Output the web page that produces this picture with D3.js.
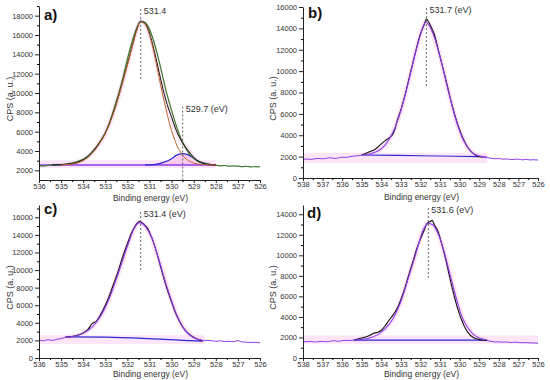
<!DOCTYPE html>
<html>
<head>
<meta charset="utf-8">
<script src="https://cdn.jsdelivr.net/npm/d3@7"></script>
<style>
  body { margin: 0; background: #fff; }
  svg text { font-family: "Liberation Sans", Arial, sans-serif; }
</style>
</head>
<body>
<svg id="svg" width="550" height="380"></svg>
<script>
// ---- data: [binding energy (eV), CPS] ----

// panel a
var aData = [[536.0,2480],[535.8,2440],[535.6,2510],[535.4,2540],[535.2,2560],[535.0,2600],[534.8,2640],[534.6,2720],[534.4,2800],[534.2,2950],[534.0,3150],[533.8,3450],[533.6,3900],[533.4,4450],[533.2,5100],[533.0,5900],[532.8,7000],[532.6,8400],[532.4,9900],[532.2,11600],[532.0,13500],[531.8,15200],[531.6,16600],[531.4,17450],[531.2,17300],[531.0,16600],[530.8,15300],[530.6,13600],[530.4,11700],[530.2,9800],[530.0,8200],[529.8,6700],[529.6,5400],[529.4,4450],[529.2,3700],[529.0,3250],[528.8,2950],[528.6,2800],[528.4,2700],[528.2,2600],[528.0,2520],[527.8,2470],[527.6,2500],[527.4,2430],[527.2,2460],[527.0,2440],[526.8,2380],[526.6,2420],[526.4,2360],[526.2,2380],[526.0,2350]];
var aEnvelope = [[535.4,2560],[535.0,2590],[534.6,2680],[534.2,2880],[533.8,3400],[533.4,4400],[533.0,5850],[532.6,8200],[532.2,11300],[531.8,14700],[531.6,16400],[531.4,17400],[531.2,17200],[531.0,16200],[530.8,14500],[530.6,12500],[530.4,10500],[530.2,8800],[530.0,7500],[529.8,6200],[529.6,5200],[529.4,4500],[529.2,3900],[529.0,3350],[528.8,2950],[528.6,2750],[528.4,2640],[528.2,2580],[528.0,2560]];
var aPeak1 = [[535.0,2560],[534.6,2620],[534.2,2800],[533.8,3300],[533.4,4300],[533.0,5800],[532.6,8100],[532.2,11200],[531.8,14600],[531.6,16300],[531.4,17350],[531.2,17100],[531.0,16000],[530.8,14200],[530.6,12000],[530.4,9800],[530.2,7800],[530.0,6100],[529.8,4800],[529.6,3900],[529.4,3300],[529.2,2950],[529.0,2750],[528.6,2600],[528.2,2560],[528.0,2550]];
var aPeak2 = [[531.2,2560],[530.8,2600],[530.4,2800],[530.0,3200],[529.8,3550],[529.5,3720],[529.2,3550],[529.0,3250],[528.8,2950],[528.6,2750],[528.4,2620],[528.2,2570],[528.0,2550]];
var aBaseline = [[536.0,2550],[528.0,2550]];

// panel b
var bWingLeft = [[538.0,1750],[537.8,1780],[537.6,1740],[537.4,1800],[537.2,1830],[537.0,1790],[536.8,1850],[536.6,1900],[536.4,1820],[536.2,1880],[536.0,1950],[535.8,1920],[535.6,2000],[535.4,2050],[535.2,2080],[535.0,2150]];
var bData = [[535.0,2150],[534.8,2300],[534.6,2450],[534.4,2600],[534.2,2850],[534.0,3200],[533.8,3500],[533.6,3750],[533.4,4150],[533.3,4600],[533.2,5300],[533.0,6400],[532.8,7700],[532.6,9200],[532.4,10700],[532.2,12200],[532.0,13500],[531.8,14400],[531.7,14900],[531.6,14650],[531.4,13900],[531.3,13500],[531.2,12800],[531.0,11350],[530.8,9900],[530.6,8400],[530.4,6900],[530.2,5600],[530.0,4500],[529.8,3600],[529.6,2900],[529.4,2450],[529.2,2150],[529.0,2000],[528.8,1950]];
var bWingRight = [[528.8,1950],[528.6,1900],[528.4,1850],[528.2,1800],[528.0,1820],[527.8,1760],[527.6,1790],[527.4,1720],[527.2,1750],[527.0,1760],[526.8,1700],[526.6,1740],[526.4,1690],[526.2,1710],[526.0,1680]];
var bFit = [[535.0,2150],[534.6,2250],[534.2,2500],[533.8,3100],[533.4,4300],[533.0,6300],[532.6,9100],[532.2,12100],[531.9,14000],[531.75,14600],[531.6,14400],[531.3,13200],[531.0,11300],[530.6,8300],[530.2,5500],[529.8,3500],[529.4,2450],[529.0,2050],[528.6,1960]];
var bBaseline = [[535.0,2150],[532.0,2080],[529.0,2000]];

// panel c
var cWingLeft = [[536.0,2050],[535.8,1950],[535.6,2080],[535.4,2000],[535.2,2120],[535.0,2200],[534.8,2350]];
var cData = [[534.8,2350],[534.6,2420],[534.4,2500],[534.2,2650],[534.0,2850],[533.8,3200],[533.6,3900],[533.4,4200],[533.2,5000],[533.0,6000],[532.8,7200],[532.6,8600],[532.4,10000],[532.2,11600],[532.0,13000],[531.8,14300],[531.6,15200],[531.45,15550],[531.3,15300],[531.1,14800],[531.0,14300],[530.8,13000],[530.6,11300],[530.4,9500],[530.2,7800],[530.0,6350],[529.8,5000],[529.6,3950],[529.4,3200],[529.2,2700],[529.0,2350],[528.8,2100],[528.6,1950]];
var cWingRight = [[528.6,1950],[528.4,2000],[528.2,1980],[528.0,1900],[527.8,1950],[527.6,1880],[527.4,1900],[527.2,1850],[527.0,1980],[526.8,1820],[526.6,1800],[526.4,1760],[526.2,1780],[526.0,1720]];
var cFit = [[534.8,2350],[534.4,2480],[534.0,2800],[533.6,3500],[533.2,4800],[532.8,6900],[532.4,9700],[532.0,12700],[531.7,14700],[531.45,15400],[531.2,15000],[530.9,13700],[530.6,11400],[530.2,8000],[529.8,5100],[529.4,3200],[529.0,2300],[528.6,2000]];
var cBaseline = [[534.8,2400],[533.0,2380],[531.0,2200],[529.5,2000],[528.6,1930]];

// panel d
var dWingLeft = [[538.0,1600],[537.8,1580],[537.6,1620],[537.4,1560],[537.2,1600],[537.0,1620],[536.8,1580],[536.6,1640],[536.4,1680],[536.2,1620],[536.0,1700],[535.8,1720],[535.6,1700],[535.4,1750]];
var dData = [[535.4,1750],[535.2,1850],[535.0,1950],[534.8,2050],[534.6,2200],[534.4,2400],[534.2,2500],[534.0,2700],[533.8,3150],[533.6,3700],[533.4,4200],[533.2,4800],[533.0,5700],[532.8,6800],[532.6,8100],[532.4,9300],[532.2,10600],[532.0,11600],[531.8,12500],[531.7,13000],[531.6,13200],[531.5,13300],[531.4,13400],[531.3,13000],[531.1,12300],[530.9,11000],[530.7,9500],[530.5,7800],[530.3,6200],[530.1,4800],[529.9,3700],[529.7,2850],[529.5,2300],[529.3,2000],[529.1,1850],[528.9,1750],[528.6,1700]];
var dWingRight = [[528.6,1700],[528.4,1620],[528.2,1560],[528.0,1580],[527.8,1540],[527.6,1560],[527.4,1500],[527.2,1540],[527.0,1520],[526.8,1480],[526.6,1500],[526.4,1470],[526.2,1460],[526.0,1440]];
var dFit = [[535.4,1750],[535.0,1800],[534.6,1950],[534.2,2250],[533.8,2850],[533.4,3850],[533.0,5500],[532.6,7900],[532.2,10400],[531.9,12300],[531.6,13100],[531.4,13000],[531.1,12100],[530.8,10400],[530.5,8200],[530.2,6000],[529.9,4100],[529.6,3000],[529.3,2300],[529.0,1950],[528.6,1760]];
var dBaseline = [[535.4,1750],[528.6,1750]];

// peak markers: [position, top value, bottom value], labels
var aMarks = [[531.4,18700,11300],[529.5,8600,700]];
var aMarkLabels = ["531.4","529.7 (eV)"];
var bMarks = [[531.7,15900,8500]];
var bMarkLabels = ["531.7 (eV)"];
var cMarks = [[531.4,16600,10000]];
var cMarkLabels = ["531.4 (eV)"];
var dMarks = [[531.6,14600,7800]];
var dMarkLabels = ["531.6 (eV)"];

// pink shaded bands: [E start, E end, low, high]
var aBand = [536.0,528.0,2250,3050];
var bBand = [538.0,528.6,1400,2350];
var cBand = [536.0,528.5,1600,2600];
var dBand = [538.0,526.0,1400,2200];

var svg = d3.select("#svg");

var panels = [
  { name: "a)", x: [39,260], y: [180,6], xd: [536,526], yd: [1000,19000], yTicks: d3.range(2000,18001,2000),
    lx: 44, ly: 20, titleX: 10, titleDy: 21, band: aBand, marks: aMarks, markLabels: aMarkLabels },
  { name: "b)", x: [303,538], y: [178,7], xd: [538,526], yd: [0,16000], yTicks: d3.range(0,16001,2000),
    lx: 308, ly: 18, titleX: 273, titleDy: 22, band: bBand, marks: bMarks, markLabels: bMarkLabels },
  { name: "c)", x: [39,260], y: [358,205], xd: [536,526], yd: [0,17400], yTicks: d3.range(0,16001,2000),
    lx: 44, ly: 214, titleX: 10, titleDy: 19, band: cBand, marks: cMarks, markLabels: cMarkLabels },
  { name: "d)", x: [303,538], y: [358,205], xd: [538,526], yd: [0,14900], yTicks: d3.range(0,14001,2000),
    lx: 307, ly: 218, titleX: 273, titleDy: 19, band: dBand, marks: dMarks, markLabels: dMarkLabels }
];

var pink = "#fbdcf4", purple = "#8c3ce8", blue = "#2a2ad2", green = "#3f7a2c", orange = "#c0652c";
var tickFont = "'Liberation Sans Narrow', 'Liberation Sans', Arial, sans-serif";

panels.forEach(function (p, i) {
  var x = d3.scaleLinear().domain(p.xd).range(p.x);
  var y = d3.scaleLinear().domain(p.yd).range(p.y);
  var line = d3.line().x(function (d) { return x(d[0]); }).y(function (d) { return y(d[1]); }).curve(d3.curveMonotoneX);
  var plot = svg.append("g");

  function path(data, color, w, op) {
    plot.append("path").datum(data.slice().sort(function (a, b) { return b[0] - a[0]; }))
      .attr("d", line).attr("fill", "none").attr("stroke", color).attr("stroke-width", w)
      .attr("stroke-linejoin", "round").attr("opacity", op || 1);
  }

  // shaded band
  plot.append("rect")
    .attr("x", x(p.band[0])).attr("width", x(p.band[1]) - x(p.band[0]))
    .attr("y", y(p.band[3])).attr("height", y(p.band[2]) - y(p.band[3]))
    .attr("fill", pink).attr("opacity", 0.75);

  if (i === 0) {
    // pink fill under second component
    var area = d3.area().x(function (d) { return x(d[0]); }).y0(y(aBaseline[0][1])).y1(function (d) { return y(d[1]); }).curve(d3.curveMonotoneX);
    plot.append("path").datum(aPeak2.slice().reverse()).attr("d", area).attr("fill", "#f6c2ec").attr("opacity", 0.8);
    path(aEnvelope, pink, 5, 0.7);
    path(aBaseline, purple, 1.6);
    path(aPeak2, blue, 1.2);
    path(aData, green, 1.2);
    path(aEnvelope, "#111", 1.0);
    path(aPeak1, orange, 1.0);
  } else {
    var sets = [[bWingLeft, bData, bWingRight, bFit, bBaseline], [cWingLeft, cData, cWingRight, cFit, cBaseline], [dWingLeft, dData, dWingRight, dFit, dBaseline]][i - 1];
    path(sets[3], pink, 5, 0.7);
    path(sets[0], purple, 1.0);
    path(sets[2], purple, 1.0);
    path(sets[4], blue, 1.2);
    path(sets[1], "#111", 1.1);
    path(sets[3], purple, 1.1);
  }

  // peak markers
  p.marks.forEach(function (m, k) {
    plot.append("line")
      .attr("x1", x(m[0])).attr("x2", x(m[0]))
      .attr("y1", y(m[1])).attr("y2", y(m[2]))
      .attr("stroke", "#555").attr("stroke-width", 0.9).attr("stroke-dasharray", "2,2");
    plot.append("text")
      .attr("x", x(m[0]) + 3).attr("y", y(m[1]) + 5)
      .attr("font-size", 9).attr("fill", "#333")
      .text(p.markLabels[k]);
  });

  // axes
  var gx = svg.append("g").attr("transform", "translate(0," + p.y[0] + ")")
    .call(d3.axisBottom(x).tickValues(d3.range(p.xd[1], p.xd[0] + 0.01, 1)).tickFormat(d3.format("d")).tickSize(3).tickSizeOuter(0).tickPadding(1));
  svg.append("g").attr("transform", "translate(0," + p.y[0] + ")")
    .call(d3.axisBottom(x).tickValues(d3.range(p.xd[1] + 0.5, p.xd[0], 1)).tickFormat("").tickSize(2))
    .select(".domain").remove();

  var gy = svg.append("g").attr("transform", "translate(" + p.x[0] + ",0)")
    .call(d3.axisLeft(y).tickValues(p.yTicks).tickFormat(d3.format("d")).tickSize(4).tickSizeOuter(0).tickPadding(2));
  svg.append("g").attr("transform", "translate(" + p.x[0] + ",0)")
    .call(d3.axisLeft(y).tickValues(p.yTicks.map(function (t) { return t + 1000; }).filter(function (t) { return t <= p.yd[1]; })).tickFormat("").tickSize(2))
    .select(".domain").remove();

  [gx, gy].forEach(function (g) {
    g.select(".domain").attr("stroke", "#222").attr("stroke-width", 1);
    g.selectAll(".tick line").attr("stroke", "#222");
    g.selectAll(".tick text").attr("font-size", 7.5).attr("fill", "#333").attr("font-family", tickFont);
  });

  // titles
  svg.append("text")
    .attr("x", (p.x[0] + p.x[1]) / 2 + 1).attr("y", p.y[0] + p.titleDy)
    .attr("text-anchor", "middle").attr("font-size", 8.5).attr("fill", "#333")
    .text("Binding energy (eV)");
  svg.append("text")
    .attr("transform", "translate(" + p.titleX + "," + ((p.y[0] + p.y[1]) / 2 + 6) + ") rotate(-90)")
    .attr("dy", "0.35em").attr("text-anchor", "middle").attr("font-size", 9).attr("fill", "#333")
    .text("CPS (a. u.)");
  svg.append("text")
    .attr("x", p.lx).attr("y", p.ly)
    .attr("font-size", 15).attr("font-weight", "bold").attr("fill", "#111")
    .text(p.name);
});
</script>
</body>
</html>
